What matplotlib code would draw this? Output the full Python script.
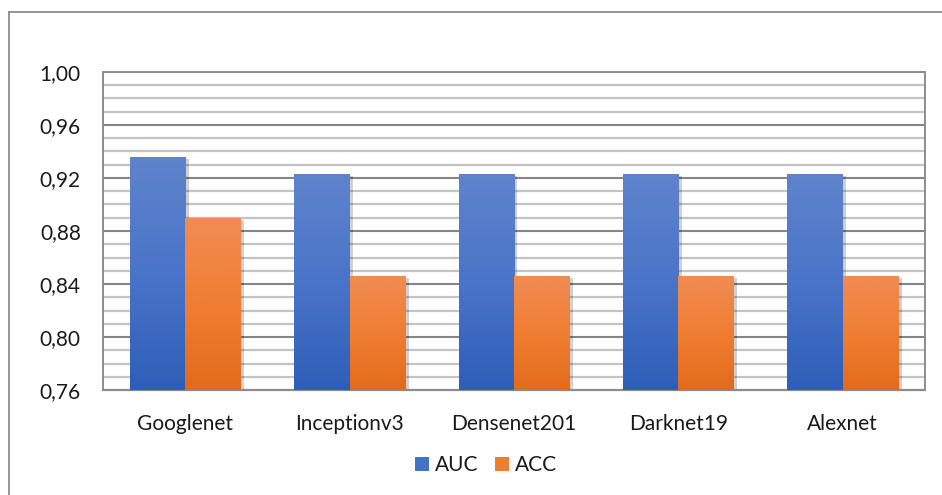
import numpy as np
import matplotlib
matplotlib.use("Agg")
import matplotlib.pyplot as plt
from matplotlib.lines import Line2D
from matplotlib.patches import Patch
from matplotlib.colors import LinearSegmentedColormap
import matplotlib.patheffects as pe

plt.rcParams['font.family'] = ['Lato', 'DejaVu Sans']

models = ["Googlenet", "Inceptionv3", "Densenet201", "Darknet19", "Alexnet"]
auc = [0.936, 0.923, 0.923, 0.923, 0.923]
acc = [0.890, 0.846, 0.846, 0.846, 0.846]
y_ticks = [0.76, 0.80, 0.84, 0.88, 0.92, 0.96, 1.00]

fig = plt.figure(figsize=(9.42, 4.95), dpi=100)
ax = fig.add_axes([103 / 942, 1 - 390 / 495, 822 / 942, 318 / 495])

ax.set_ylim(0.76, 1.00)
ax.set_xlim(-0.5, len(models) - 0.5)

# gridlines: light minor every 0.01, darker major every 0.04
for v in np.arange(0.77, 1.0, 0.01):
    ax.axhline(v, color="#C3C3C3", lw=1.6, zorder=0)
for v in y_ticks:
    ax.axhline(v, color="#7F7F7F", lw=1.3, zorder=0.5)

x = np.arange(len(models))
w = 0.3375
blue_cmap = LinearSegmentedColormap.from_list("b", ["#2E5EB8", "#4A74C8", "#5F84CD"])
orange_cmap = LinearSegmentedColormap.from_list("o", ["#E36A1B", "#F07E32", "#F08C53"])

shadow = [pe.SimplePatchShadow(offset=(2.5, -1.5), shadow_rgbFace="#000000", alpha=0.18), pe.Normal()]
bars_auc = ax.bar(x - w / 2, auc, width=w, bottom=0, color="#4472C4", zorder=2, path_effects=shadow)
bars_acc = ax.bar(x + w / 2, acc, width=w, bottom=0, color="#ED7D31", zorder=2, path_effects=shadow)

grad = np.linspace(0, 1, 256).reshape(-1, 1)
for bars, cmap in ((bars_auc, blue_cmap), (bars_acc, orange_cmap)):
    for b in bars:
        x0, wd, h = b.get_x(), b.get_width(), b.get_height()
        im = ax.imshow(grad, cmap=cmap, aspect="auto", origin="lower",
                       extent=(x0, x0 + wd, 0.76, h), zorder=3)
        im.set_clip_path(b)

ax.set_ylim(0.76, 1.00)
ax.set_xlim(-0.5, len(models) - 0.5)
ax.set_xticks(x)
ax.set_xticklabels(models, fontsize=15, color="#1A1A1A")
ax.set_yticks(y_ticks)
ax.set_yticklabels([f"{v:.2f}".replace(".", ",") for v in y_ticks], fontsize=15, color="#1A1A1A")
ax.tick_params(length=0)
ax.tick_params(axis="x", pad=17)
ax.tick_params(axis="y", pad=16)

for s in ("left", "right", "top"):
    ax.spines[s].set_color("#8C8C8C")
    ax.spines[s].set_linewidth(1.4)
ax.spines["bottom"].set_color("#8C8C8C")
ax.spines["bottom"].set_linewidth(1.6)

handles = [Patch(facecolor="#4472C4", edgecolor="none", label="AUC"),
           Patch(facecolor="#ED7D31", edgecolor="none", label="ACC")]
fig.legend(handles=handles, loc="center", bbox_to_anchor=(486 / 942, 1 - 465 / 495),
           ncol=2, frameon=False, fontsize=15, handlelength=0.65, handleheight=0.65,
           handletextpad=0.3, columnspacing=0.8, labelcolor="#1A1A1A")

# chart border
fig.add_artist(Line2D([8.5 / 942, 8.5 / 942], [0, 1 - 12 / 495], color="#8C8C8C", lw=1.3,
                      transform=fig.transFigure))
fig.add_artist(Line2D([8.5 / 942, 1], [1 - 12 / 495, 1 - 12 / 495], color="#8C8C8C", lw=1.3,
                      transform=fig.transFigure))

fig.savefig("out.png", dpi=100)
